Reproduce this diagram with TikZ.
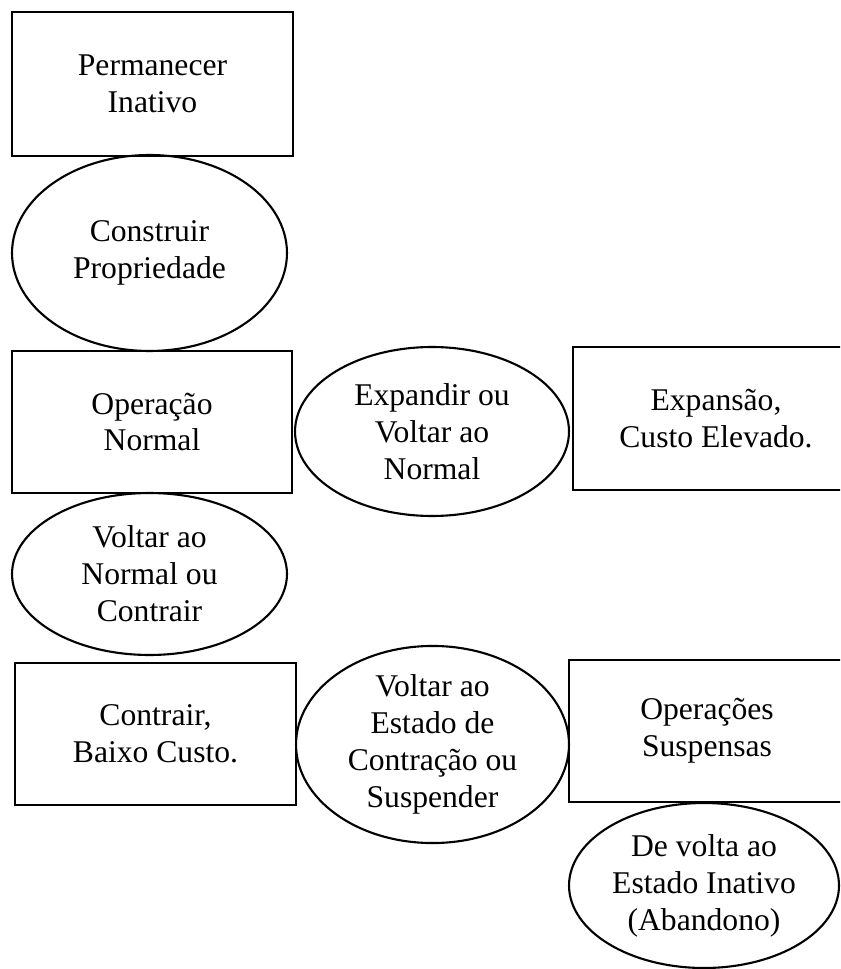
\documentclass[tikz,border=0pt]{standalone}
\usepackage{fontspec}
\setmainfont{Liberation Serif}
\usetikzlibrary{shapes.geometric}

\begin{document}
\begin{tikzpicture}[x=0.02cm, y=-0.02cm,
	estado/.style={draw, line width=1.3pt, rectangle, inner sep=0pt, align=center,
		font=\fontsize{18}{21}\selectfont},
	acao/.style={draw, line width=1.2pt, ellipse, inner sep=0pt, align=center,
		font=\fontsize{18}{21}\selectfont}]

		\useasboundingbox (0,0) rectangle (840,969);
		\clip (0,0) rectangle (840,969);

		% coluna da esquerda
		\node[estado, minimum width=5.62cm, minimum height=2.88cm] (inativo) at (152.5,84) {Permanecer\\Inativo};
		\node[acao, minimum width=5.5cm, minimum height=3.92cm] (construir) at (149.5,253) {Construir\\Propriedade};
		\node[estado, minimum width=5.6cm, minimum height=2.84cm] (normal) at (152,422) {Operação\\Normal};
		\node[acao, minimum width=5.5cm, minimum height=3.24cm] (voltarnormal) at (149.5,574) {Voltar ao\\Normal ou\\Contrair};
		\node[estado, minimum width=5.62cm, minimum height=2.84cm] (contrair) at (155.5,734) {Contrair,\\Baixo Custo.};

		% meio e direita
		\node[acao, minimum width=5.48cm, minimum height=3.38cm] (expandir) at (432,431.5) {Expandir ou\\Voltar ao\\Normal};
		\node[estado, minimum width=5.72cm, minimum height=2.86cm] (expansao) at (716,418.5) {Expansão,\\Custo Elevado.};
		\node[acao, minimum width=5.46cm, minimum height=3.38cm] (voltarestado) at (432.5,744.5) {Voltar ao\\Estado de\\Contração ou\\Suspender};
		\node[estado, minimum width=5.52cm, minimum height=2.84cm] (suspensas) at (707,731) {Operações\\Suspensas};
		\node[acao, minimum width=5.4cm, minimum height=3.3cm] (abandono) at (704,885.5) {De volta ao\\Estado Inativo\\(Abandono)};
	\end{tikzpicture}
\end{document}
